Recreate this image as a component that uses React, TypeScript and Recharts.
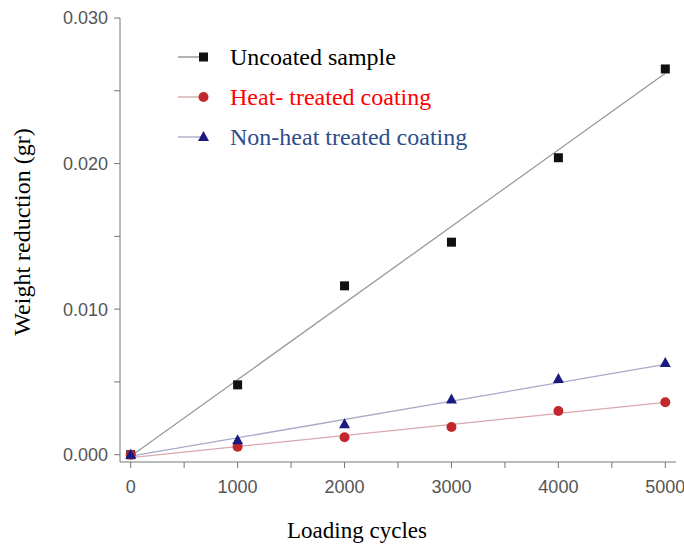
import React from 'react';
import { ComposedChart, Line, Scatter, XAxis, YAxis, Label } from 'recharts';

const cycles = [0, 1000, 2000, 3000, 4000, 5000];
const uncoated = [0, 0.0048, 0.0116, 0.0146, 0.0204, 0.0265];
const heatTreated = [0, 0.00055, 0.0012, 0.0019, 0.003, 0.0036];
const nonHeat = [0, 0.001, 0.0021, 0.0038, 0.0052, 0.0063];

const fitCycles = [0, 5000];
const uncoatedFit = [-0.0001, 0.0262];
const heatFit = [-0.0002, 0.0036];
const nonHeatFit = [-0.0001, 0.0062];

const xTicks = [0, 500, 1000, 1500, 2000, 2500, 3000, 3500, 4000, 4500, 5000];
const xMajor = [0, 1000, 2000, 3000, 4000, 5000];
const yTicks = [0, 0.005, 0.01, 0.015, 0.02, 0.025, 0.03];
const yMajor = [0, 0.01, 0.02, 0.03];

const seriesNames = ['Uncoated sample', 'Heat- treated coating', 'Non-heat treated coating'];

const pts = (ys: number[]) => cycles.map((c, i) => ({ x: c, y: ys[i] }));
const fit = (ys: number[]) => fitCycles.map((c, i) => ({ x: c, y: ys[i] }));

const SERIF = '"Liberation Serif", "Times New Roman", serif';
const SANS = '"Liberation Sans", Arial, sans-serif';

const Square = (p: any) => <rect x={p.cx - 4.5} y={p.cy - 4.5} width={9} height={9} fill="#111" />;
const Dot = (p: any) => <circle cx={p.cx} cy={p.cy} r={5} fill="#c1272d" />;
const Tri = (p: any) => (
  <polygon points={`${p.cx},${p.cy - 6} ${p.cx + 5.5},${p.cy + 4} ${p.cx - 5.5},${p.cy + 4}`} fill="#1a1a80" />
);

const XTick = (p: any) => {
  const v = p.payload.value;
  if (!xMajor.includes(v)) return null;
  return (
    <text x={p.x} y={p.y} dy="0.71em" textAnchor="middle" fill="#555" fontSize={18} fontFamily={SANS}>
      {v}
    </text>
  );
};

const YTick = (p: any) => {
  const v = p.payload.value;
  if (!yMajor.some((m) => Math.abs(m - v) < 1e-9)) return null;
  return (
    <text x={p.x} y={p.y} dy="0.355em" textAnchor="end" fill="#555" fontSize={18} fontFamily={SANS}>
      {v.toFixed(3)}
    </text>
  );
};

const legendItems = [
  { name: seriesNames[0], color: '#000', line: '#999', marker: 'square' },
  { name: seriesNames[1], color: '#ff0000', line: '#d8b0b4', marker: 'circle' },
  { name: seriesNames[2], color: '#2e4d8c', line: '#b0b0cc', marker: 'triangle' },
];

const LegendBox = () => (
  <div style={{ position: 'absolute', left: 176, top: 37, fontFamily: SERIF, fontSize: 24, lineHeight: 1 }}>
    {legendItems.map((it) => (
      <div key={it.name} style={{ display: 'flex', alignItems: 'center', height: 40 }}>
        <svg width={36} height={20} style={{ marginRight: 18 }}>
          <line x1={2} y1={10} x2={30} y2={10} stroke={it.line} strokeWidth={1.5} />
          {it.marker === 'square' && <rect x={23} y={5.5} width={9} height={9} fill="#111" />}
          {it.marker === 'circle' && <circle cx={27.5} cy={10} r={5} fill="#c1272d" />}
          {it.marker === 'triangle' && <polygon points="27.5,4 33,14 22,14" fill="#1a1a80" />}
        </svg>
        <span style={{ color: it.color }}>{it.name}</span>
      </div>
    ))}
  </div>
);

export default function App() {
  return (
    <div style={{ position: 'absolute', left: 0, top: 0, width: 684, height: 544, background: '#fff' }}>
      <ComposedChart width={684} height={544} margin={{ top: 18, right: 8, bottom: 0, left: 0 }}>
        <XAxis
          dataKey="x"
          type="number"
          domain={[-100, 5100]}
          ticks={xTicks}
          allowDataOverflow
          stroke="#777"
          tickSize={6}
          tickMargin={12}
          tick={<XTick />}
          height={82}
        >
          <Label
            content={() => (
              <text x={357} y={538} textAnchor="middle" fontFamily={SERIF} fontSize={23} fill="#000">
                Loading cycles
              </text>
            )}
          />
        </XAxis>
        <YAxis
          dataKey="y"
          type="number"
          domain={[-0.0005, 0.03]}
          ticks={yTicks}
          allowDataOverflow
          stroke="#777"
          tickSize={6}
          tickMargin={6}
          tick={<YTick />}
          width={120}
        >
          <Label
            content={() => (
              <text
                x={30}
                y={232}
                transform="rotate(-90 30 232)"
                textAnchor="middle"
                fontFamily={SERIF}
                fontSize={24}
                fill="#000"
              >
                Weight reduction (gr)
              </text>
            )}
          />
        </YAxis>
        <Line data={fit(uncoatedFit)} dataKey="y" stroke="#999" strokeWidth={1.3} dot={false} isAnimationActive={false} />
        <Line data={fit(heatFit)} dataKey="y" stroke="#d8a8ae" strokeWidth={1.3} dot={false} isAnimationActive={false} />
        <Line data={fit(nonHeatFit)} dataKey="y" stroke="#a8a8c8" strokeWidth={1.3} dot={false} isAnimationActive={false} />
        <Scatter name={seriesNames[0]} data={pts(uncoated)} dataKey="y" shape={Square} isAnimationActive={false} />
        <Scatter name={seriesNames[1]} data={pts(heatTreated)} dataKey="y" shape={Dot} isAnimationActive={false} />
        <Scatter name={seriesNames[2]} data={pts(nonHeat)} dataKey="y" shape={Tri} isAnimationActive={false} />
      </ComposedChart>
      <LegendBox />
    </div>
  );
}
